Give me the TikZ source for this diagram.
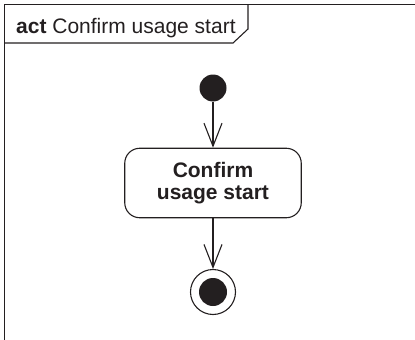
\documentclass[tikz,border=0pt]{standalone}
\usepackage{fontspec}
\setmainfont{Liberation Sans}
\usetikzlibrary{arrows.meta}
\definecolor{ink}{HTML}{231F20}
\begin{document}
\begin{tikzpicture}[x=1pt,y=-1pt,
  line/.style={draw=ink,line width=1.1pt},
  arr/.style={line,-{Straight Barb[length=23pt,width=18pt,line width=1.1pt]}},
  actbox/.style={line,rounded corners=15pt,minimum width=176.5pt,minimum height=69.5pt,inner sep=0pt,align=center,text=ink,font=\bfseries\fontsize{21}{22}\selectfont},
  dot/.style={circle,fill=ink,inner sep=0pt},
]
\useasboundingbox (0,0) rectangle (415,340);
% frame
\draw[draw=ink,line width=1.4pt] (4.5,340) -- (4.5,4.5) -- (415,4.5);
\draw[line] (4.5,43) -- (233,43) -- (248,29) -- (248,4.5);
\node[anchor=base west,inner sep=0pt,text=ink,font=\fontsize{21}{22}\selectfont] (title) at (16,33) {\textbf{act} Confirm usage start};
% nodes
\node[dot,minimum size=27pt] (init) at (213,88) {};
\node[actbox] (act) at (213,183) {Confirm\\usage start};
\node[circle,line,minimum size=45pt,inner sep=0pt] (final) at (213,292) {};
\node[dot,minimum size=28pt] (finaldot) at (final.center) {};
% edges
\draw[arr] (init) -- (act);
\draw[arr] (act) -- (final);
\end{tikzpicture}
\end{document}
